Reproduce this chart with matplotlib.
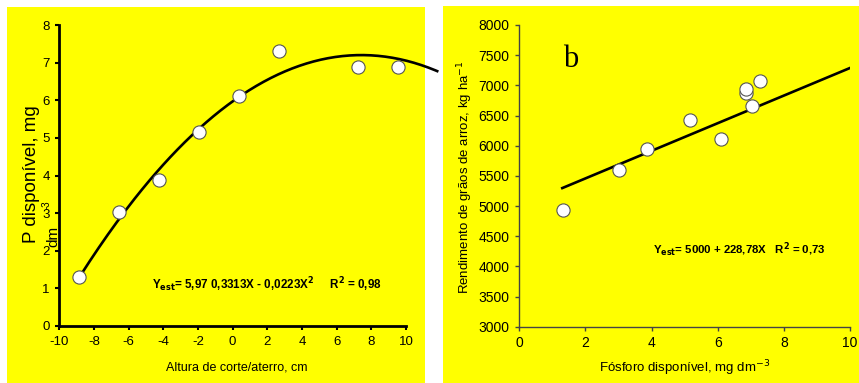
import numpy as np
import matplotlib.pyplot as plt
from matplotlib.patches import Rectangle

plt.rcParams['font.family'] = ['Liberation Sans', 'DejaVu Sans']
plt.rcParams['axes.unicode_minus'] = False

# panel a: altura de corte/aterro vs P disponivel
altura = [-8.85, -6.56, -4.24, -1.93, 0.36, 2.65, 7.24, 9.54]
p_disp = [1.31, 3.02, 3.88, 5.16, 6.10, 7.30, 6.89, 6.89]
coef_a = [5.97, 0.3313, -0.0223]
x_curve_range = [-8.75, 11.8]

# panel b: fosforo disponivel vs rendimento
fosforo = [1.31, 3.00, 3.87, 5.15, 6.09, 6.87, 6.87, 7.03, 7.29]
rendimento = [4929, 5597, 5940, 6431, 6116, 6868, 6944, 6658, 7072]
coef_b = [5000, 228.78]
x_line_range = [1.3, 10]

fig = plt.figure(figsize=(8.59, 3.83), dpi=100)
fig.patch.set_facecolor('white')
W, H = 859, 383

def px_rect(x0, y0, x1, y1):
    return Rectangle((x0 / W, 1 - y1 / H), (x1 - x0) / W, (y1 - y0) / H,
                     transform=fig.transFigure, facecolor='#ffff00',
                     edgecolor='none', zorder=-10)

fig.patches.append(px_rect(7, 7, 425, 383))
fig.patches.append(px_rect(443, 6, 859, 383))

# ---- left panel
ax1 = fig.add_axes([59.3 / W, 1 - 326 / H, (406 - 59.3) / W, (326 - 25) / H])
ax1.set_facecolor('none')
ax1.set_xlim(-10, 10)
ax1.set_ylim(0, 8)
ax1.set_xticks(range(-10, 11, 2))
ax1.set_yticks(range(0, 9))
for s in ['top', 'right']:
    ax1.spines[s].set_visible(False)
for s in ['left', 'bottom']:
    ax1.spines[s].set_linewidth(2)
ax1.tick_params(direction='out', length=3, width=1.5, labelsize=9.5, pad=4)

xc = np.linspace(x_curve_range[0], x_curve_range[1], 200)
yc = coef_a[0] + coef_a[1] * xc + coef_a[2] * xc ** 2
ax1.plot(xc, yc, color='black', lw=1.9, clip_on=False, zorder=3)
ax1.plot(altura, p_disp, 'o', ms=9.5, mfc='white', mec='#555555', mew=0.8,
         zorder=4, clip_on=False)
ax1.text(-4.65, 1.09, r'Y$_{\mathbf{est}}$= 5,97 0,3313X - 0,0223X$^{\mathbf{2}}$     R$^{\mathbf{2}}$ = 0,98',
         fontsize=8.4, fontweight='bold', va='center', ha='left')

fig.text(237 / W, 1 - 368 / H, 'Altura de corte/aterro, cm', fontsize=9,
         ha='center', va='center')
fig.text(32 / W, 1 - 174 / H, 'P disponível, mg', fontsize=13.5, rotation=90,
         ha='center', va='center')
fig.text(53 / W, 1 - 236 / H, 'dm', fontsize=11, rotation=90,
         ha='center', va='center')
fig.text(47 / W, 1 - 205 / H, '-3', fontsize=7, rotation=90,
         ha='center', va='center')

# ---- right panel
ax2 = fig.add_axes([519.3 / W, 1 - 326.7 / H, 330.7 / W, 301.7 / H])
ax2.set_facecolor('none')
ax2.set_xlim(0, 10)
ax2.set_ylim(3000, 8000)
ax2.set_xticks(range(0, 11, 2))
ax2.set_yticks(range(3000, 8001, 500))
for s in ['top', 'right']:
    ax2.spines[s].set_visible(False)
for s in ['left', 'bottom']:
    ax2.spines[s].set_linewidth(1)
    ax2.spines[s].set_color('#444444')
ax2.tick_params(direction='out', length=3, width=1, color='#444444',
                labelsize=10, pad=4)

xl = np.array(x_line_range)
ax2.plot(xl, coef_b[0] + coef_b[1] * xl, color='black', lw=1.9, zorder=3)
ax2.plot(fosforo, rendimento, 'o', ms=9.5, mfc='white', mec='#555555',
         mew=0.8, zorder=4)
ax2.text(1.56, 7420, 'b', fontsize=22, family='Liberation Serif',
         ha='center', va='center')
ax2.text(4.03, 4271, r'Y$_{\mathbf{est}}$= 5000 + 228,78X   R$^{\mathbf{2}}$ = 0,73',
         fontsize=8.2, fontweight='bold', va='center', ha='left')

fig.text(465 / W, 1 - 177 / H, 'Rendimento de grãos de arroz, kg ha$^{-1}$',
         fontsize=9.5, rotation=90, ha='center', va='center')
fig.text(685 / W, 1 - 368 / H, 'Fósforo disponível, mg dm$^{-3}$',
         fontsize=9.5, ha='center', va='center')

fig.savefig('out.png', dpi=100)
